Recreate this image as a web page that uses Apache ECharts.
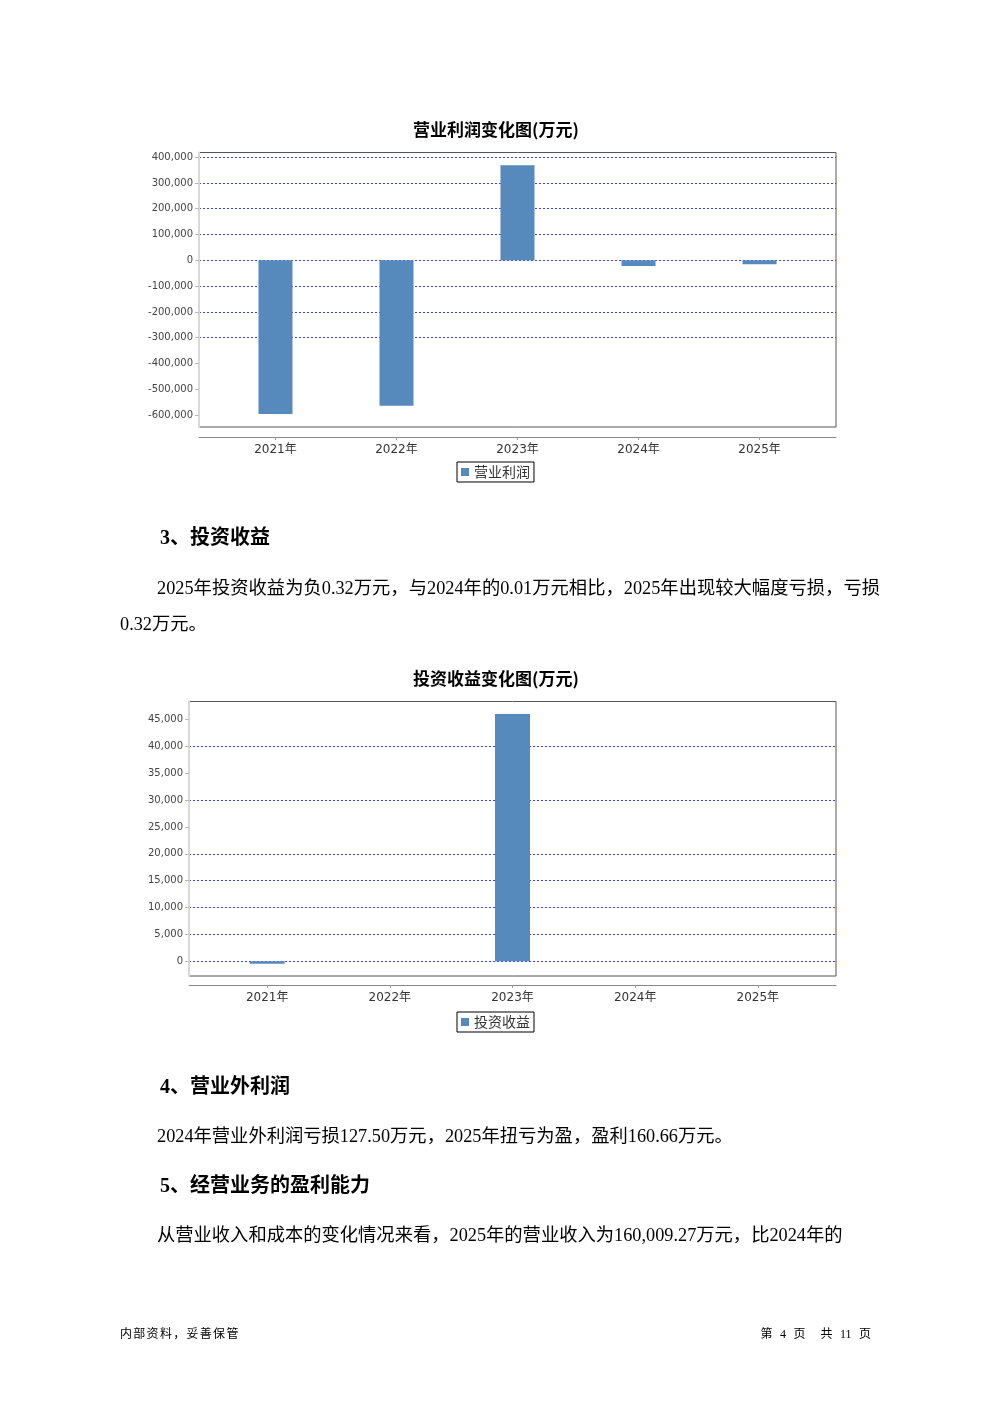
<!DOCTYPE html>
<html><head><meta charset="utf-8">
<script src="https://cdn.jsdelivr.net/npm/echarts@6/dist/echarts.min.js"></script>
<style>
html,body{margin:0;padding:0;background:#fff;}
#page{position:relative;width:992px;height:1403px;overflow:hidden;background:#fff;}
#chart{position:absolute;left:0;top:0;width:992px;height:1403px;}
.t{position:absolute;white-space:nowrap;font-family:"Liberation Serif","Noto Sans CJK SC",serif;color:#000;z-index:2;}
.h{font-size:20px;font-weight:bold;line-height:24px;}
.p{font-size:18.3px;line-height:22px;}
.j{width:723px;text-align:justify;text-align-last:justify;white-space:normal;}
.f{font-size:12px;line-height:16px;}
</style></head>
<body><div id="page"><div id="chart"></div>
<div class="t h" style="left:160px;top:525px">3、投资收益</div>
<div class="t p j" style="left:157px;top:577px">2025年投资收益为负0.32万元，与2024年的0.01万元相比，2025年出现较大幅度亏损，亏损</div>
<div class="t p" style="left:120px;top:613px">0.32万元。</div>
<div class="t h" style="left:160px;top:1074px">4、营业外利润</div>
<div class="t p" style="left:157px;top:1125px">2024年营业外利润亏损127.50万元，2025年扭亏为盈，盈利160.66万元。</div>
<div class="t h" style="left:160px;top:1173px">5、经营业务的盈利能力</div>
<div class="t p" style="left:157px;top:1224px">从营业收入和成本的变化情况来看，2025年的营业收入为160,009.27万元，比2024年的</div>
<div class="t f" style="left:120px;top:1326px;letter-spacing:1.3px">内部资料，妥善保管</div>
<div class="t f" style="right:121px;top:1326px;white-space:pre;word-spacing:4.5px">第 4 页  共 11 页</div>
</div>
<script>
// ---- data ----
const categories = ['2021年', '2022年', '2023年', '2024年', '2025年'];
const opProfit = [-596000, -564000, 369000, -22000, -15000];      // 营业利润 (万元)
const invIncome = [-450, 0, 46000, 0.01, -0.32];                  // 投资收益 (万元)
const opTicks = [-600000, -500000, -400000, -300000, -200000, -100000, 0, 100000, 200000, 300000, 400000];
const opGridLines = [400000, 300000, 200000, 100000, 0, -100000, -200000, -300000];
const invTicks = [0, 5000, 10000, 15000, 20000, 25000, 30000, 35000, 40000, 45000];
const invGridLines = [40000, 30000, 20000, 15000, 10000, 5000, 0];
const catIdx = [0, 1, 2, 3, 4];

function fmt(v) {
  const s = String(Math.abs(Math.round(v))).replace(/\B(?=(\d{3})+(?!\d))/g, ',');
  return (v < 0 ? '-' : '') + s;
}

const chart = echarts.init(document.getElementById('chart'), null, {renderer: 'canvas'});

function xAxisCfg(gridIndex, min, max, offset) {
  return {
    type: 'value', gridIndex, min, max, offset,
    axisLine: {show: true, onZero: false, lineStyle: {color: '#888', width: 1}},
    axisTick: {show: true, customValues: catIdx, length: 3, lineStyle: {color: '#999'}},
    axisLabel: {customValues: catIdx, formatter: v => categories[Math.round(v)],
      fontSize: 12, color: '#333', margin: 7, fontFamily: 'DejaVu Sans, Noto Sans CJK SC'},
    splitLine: {show: false}
  };
}
function yAxisCfg(gridIndex, min, max, ticks) {
  return {
    type: 'value', gridIndex, min, max, z: 3,
    axisLine: {show: true, onZero: false, lineStyle: {color: '#d9d9d9', width: 2}},
    axisTick: {show: true, customValues: ticks, length: 4, lineStyle: {color: '#bbb'}},
    axisLabel: {customValues: ticks, formatter: fmt, fontSize: 10, color: '#444', margin: 6,
      fontFamily: 'DejaVu Sans'},
    splitLine: {show: false}
  };
}
function markLines(vals) {
  return {
    silent: true, z: 1, symbol: ['none', 'none'], label: {show: false},
    emphasis: {disabled: true},
    lineStyle: {color: '#3f3fff', type: [2, 2], width: 1},
    data: vals.map(v => ({yAxis: v}))
  };
}
const legendBase = {
  icon: 'rect', itemWidth: 8, itemHeight: 8, padding: [3, 4, 3, 4],
  borderColor: '#000', borderWidth: 1, borderRadius: 0, selectedMode: false,
  textStyle: {fontSize: 14, color: '#333', fontFamily: 'Noto Sans CJK SC'}
};
const titleStyle = {fontSize: 17, fontWeight: 'bold', color: '#000', fontFamily: 'Noto Sans CJK SC'};

chart.setOption({
  animation: false,
  backgroundColor: 'transparent',
  title: [
    {text: '营业利润变化图(万元)', left: 496, top: 121, textAlign: 'center', padding: 0, textStyle: titleStyle},
    {text: '投资收益变化图(万元)', left: 496, top: 670, textAlign: 'center', padding: 0, textStyle: titleStyle}
  ],
  legend: [
    Object.assign({data: ['营业利润'], left: 457, top: 462}, legendBase),
    Object.assign({data: ['投资收益'], left: 457, top: 1012}, legendBase)
  ],
  grid: [
    {left: 199, top: 152.5, width: 637, height: 274.5, show: true, borderColor: '#555', borderWidth: 1, backgroundColor: 'transparent'},
    {left: 189, top: 701.5, width: 647, height: 274.5, show: true, borderColor: '#555', borderWidth: 1, backgroundColor: 'transparent'}
  ],
  xAxis: [xAxisCfg(0, -0.632, 4.632, 10), xAxisCfg(1, -0.637, 4.637, 9)],
  yAxis: [yAxisCfg(0, -646000, 418000, opTicks), yAxisCfg(1, -2730, 48330, invTicks)],
  series: [
    {name: '营业利润', type: 'bar', xAxisIndex: 0, yAxisIndex: 0, z: 2, barWidth: 34,
      itemStyle: {color: '#5689bc'}, data: opProfit.map((v, i) => [i, v]),
      markLine: markLines(opGridLines)},
    {name: '投资收益', type: 'bar', xAxisIndex: 1, yAxisIndex: 1, z: 2, barWidth: 35,
      itemStyle: {color: '#5689bc'}, data: invIncome.map((v, i) => [i, v]),
      markLine: markLines(invGridLines)}
  ]
});
</script>
</body></html>
